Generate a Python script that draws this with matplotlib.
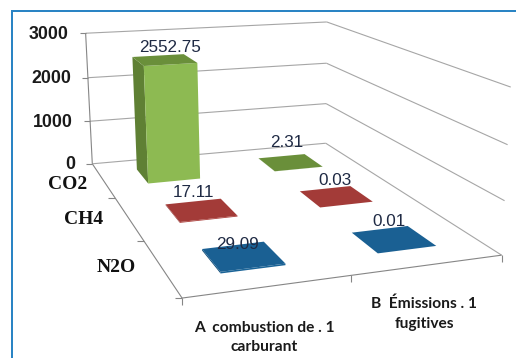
import numpy as np
import matplotlib
matplotlib.use("Agg")
import matplotlib.pyplot as plt
from matplotlib.patches import Polygon, Rectangle

# emissions by source (columns) and gas (rows)
gases = ["CO2", "CH4", "N2O"]
sources = ["A  combustion de . 1\ncarburant", "B  Émissions . 1\nfugitives"]
emissions_a = [2552.75, 17.11, 29.09]
emissions_b = [2.31, 0.03, 0.01]
value_labels_a = ["2552.75", "17.11", "29.09"]
value_labels_b = ["2.31", "0.03", "0.01"]
z_ticks = [0, 1000, 2000, 3000]

# face colours per gas: front, side, top
face_colors = {
    "CO2": ("#8dba52", "#5f8034", "#6a8f3a"),
    "CH4": ("#ad403c", "#8a2f2c", "#a33b38"),
    "N2O": ("#1b6497", "#14507c", "#1a6093"),
}

W, H = 516, 358
fig = plt.figure(figsize=(W / 100, H / 100), dpi=100)
ax = fig.add_axes([0, 0, 1, 1])
ax.set_xlim(0, W)
ax.set_ylim(H, 0)
ax.axis("off")

# camera fit: (column, row, value) -> pixel, solved from the box corners
box_3d = np.array([
    [0, 0, 0], [0, 3, 0], [2, 3, 0], [2, 0, 0],
    [0, 0, 3000], [2, 0, 3000], [2, 3, 3000],
    [0, 0, 1000], [0, 0, 2000], [2, 0, 1000], [2, 0, 2000], [2, 3, 2000],
], dtype=float)
box_px = np.array([
    [92, 164], [182, 298], [501, 255], [326, 143],
    [86, 33], [326, 22], [511, 87],
    [90, 121], [88, 78], [327, 104], [326, 63], [508, 145],
], dtype=float)

box_3d_scaled = box_3d * [1, 1, 1 / 1000]
rows_a, rhs = [], []
for (X, Y, Z), (u, v) in zip(box_3d_scaled, box_px):
    rows_a.append([X, Y, Z, 1, 0, 0, 0, 0, -u * X, -u * Y, -u * Z])
    rows_a.append([0, 0, 0, 0, X, Y, Z, 1, -v * X, -v * Y, -v * Z])
    rhs += [u, v]
cam = np.linalg.lstsq(np.array(rows_a), np.array(rhs), rcond=None)[0]
cam = np.append(cam, 1).reshape(3, 4)


def project(x, y, z):
    p = cam @ np.array([x, y, z / 1000, 1.0])
    return p[0] / p[2], p[1] / p[2]


grid_color = "#a6a6a6"
axis_color = "#868686"


def line(a, b, color=grid_color, lw=0.8):
    ax.plot([a[0], b[0]], [a[1], b[1]], color=color, lw=lw, solid_capstyle="butt")


# walls
for z in z_ticks:
    line(project(0, 0, z), project(2, 0, z))
    line(project(2, 0, z), project(2, 3, z))
line(project(0, 0, 0), project(0, 0, 3000), axis_color)

# floor edges and ticks
line(project(0, 0, 0), project(0, 3, 0), axis_color)
line(project(0, 3, 0), project(2, 3, 0), axis_color)
for z in z_ticks:
    u, v = project(0, 0, z)
    line((u - 6, v), (u, v), axis_color)
    ax.text(u - 17, v + 1, str(z), ha="right", va="center", fontsize=12.8,
            family="Liberation Sans", fontweight="bold", color="#1a1a1a")
for r in [1, 2, 3]:
    u, v = project(0, r, 0)
    line((u - 7, v), (u, v), axis_color)
for c in [0, 1, 2]:
    u, v = project(c, 3, 0)
    line((u, v), (u, v + 7), axis_color)

# gas names along the depth axis
gas_offsets = [(-16, 4), (-26, 1), (-26, 0)]
for r, name in enumerate(gases):
    u, v = project(0, r + 0.5, 0)
    ax.text(u + gas_offsets[r][0], v + gas_offsets[r][1], name, ha="right", va="center",
            fontsize=14, family="Liberation Serif", fontweight="bold", color="#111111")

# source names under the front edge
source_pos = [(264, 337.5), (424, 314)]
for (x, y), name in zip(source_pos, sources):
    ax.text(x, y, name, ha="center", va="center", fontsize=11.2, family="Lato",
            fontweight="bold", color="#1a1a1a", linespacing=1.5)


def draw_bar(col, row, value, colors, hw=0.2, hd=0.21):
    front, side, top = colors
    cx, cy = col + 0.5, row + 0.5
    x0, x1, y0, y1 = cx - hw, cx + hw, cy - hd, cy + hd
    left_face = [project(x0, y0, 0), project(x0, y1, 0), project(x0, y1, value), project(x0, y0, value)]
    front_face = [project(x0, y1, 0), project(x1, y1, 0), project(x1, y1, value), project(x0, y1, value)]
    top_face = [project(x0, y0, value), project(x1, y0, value), project(x1, y1, value), project(x0, y1, value)]
    ax.add_patch(Polygon(left_face, closed=True, fc=side, ec="none", zorder=3 + row))
    ax.add_patch(Polygon(front_face, closed=True, fc=front, ec="none", zorder=3 + row))
    ax.add_patch(Polygon(top_face, closed=True, fc=top, ec="none", zorder=3 + row))
    return project(cx, cy, value)


# bars, back row first, with value labels
label_offsets_a = [(6, -12), (-7, -17), (-6, -12)]
label_offsets_b = [(-3, -20), (-1, -16), (-4, -18)]
for r, gas in enumerate(gases):
    series = [
        (0, emissions_a[r], value_labels_a[r], label_offsets_a[r]),
        (1, emissions_b[r], value_labels_b[r], label_offsets_b[r]),
    ]
    for c, val, lab, off in series:
        u, v = draw_bar(c, r, val, face_colors[gas])
        ax.text(u + off[0], v + off[1], lab, ha="center", va="center", fontsize=12.3,
                family="Liberation Sans", color="#1f2a44", zorder=10)

# blue frame, open at the right and bottom
frame = "#2a84c4"
ax.add_patch(Rectangle((11, 10), W, 2, fc=frame, ec="none", zorder=20))
ax.add_patch(Rectangle((11, 10), 2, H, fc=frame, ec="none", zorder=20))

fig.savefig("out.png", dpi=100)
